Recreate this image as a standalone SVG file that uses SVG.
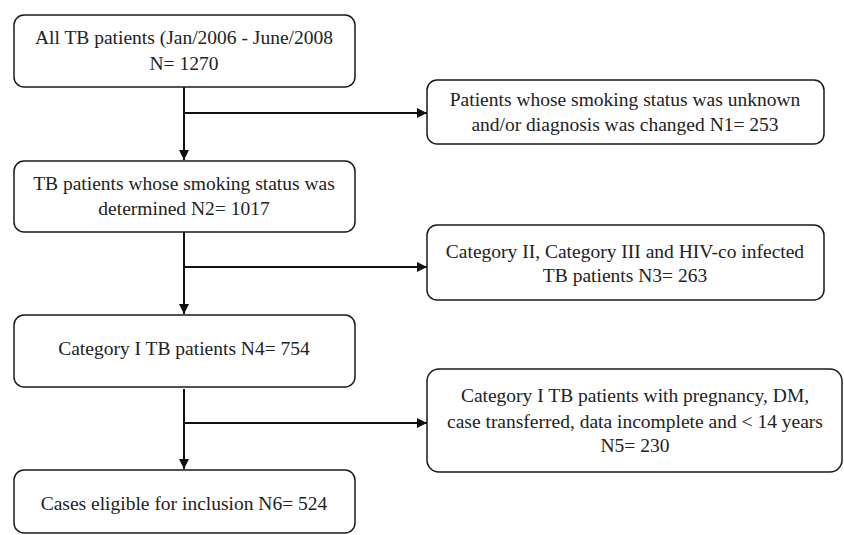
<svg xmlns="http://www.w3.org/2000/svg" width="844" height="535" viewBox="0 0 844 535">
<style>
.box{fill:#fff;stroke:#1a1a1a;stroke-width:1.5}
.t{font-family:"Liberation Serif","Times New Roman",serif;font-size:19.5px;fill:#222;text-anchor:middle}
.c{stroke:#111;stroke-width:2;fill:none}
</style>
<defs>
<marker id="ah" viewBox="0 0 10 10" refX="10" refY="5" markerWidth="10" markerHeight="10" markerUnits="userSpaceOnUse" orient="auto">
<path d="M0,0 L10,5 L0,10 Z" fill="#111"/>
</marker>
</defs>
<rect width="844" height="535" fill="#fff"/>
<g id="connectors">
<line class="c" x1="184" y1="87" x2="184" y2="160" marker-end="url(#ah)"/>
<line class="c" x1="184" y1="113" x2="427" y2="113" marker-end="url(#ah)"/>
<line class="c" x1="184" y1="232" x2="184" y2="314" marker-end="url(#ah)"/>
<line class="c" x1="184" y1="267" x2="427" y2="267" marker-end="url(#ah)"/>
<line class="c" x1="184" y1="389" x2="184" y2="469" marker-end="url(#ah)"/>
<line class="c" x1="184" y1="423" x2="427" y2="423" marker-end="url(#ah)"/>
</g>
<g id="n1">
<rect class="box" x="14" y="15" width="341" height="72" rx="10"/>
<text class="t" x="184" y="44">All TB patients (Jan/2006 - June/2008</text>
<text class="t" x="184" y="70">N= 1270</text>
</g>
<g id="n2">
<rect class="box" x="14" y="161" width="341" height="71" rx="10"/>
<text class="t" x="184" y="190">TB patients whose smoking status was</text>
<text class="t" x="184" y="215">determined N2= 1017</text>
</g>
<g id="n3">
<rect class="box" x="14" y="315" width="341" height="72" rx="10"/>
<text class="t" x="184" y="355">Category I TB patients N4= 754</text>
</g>
<g id="n4">
<rect class="box" x="14" y="470" width="341" height="63" rx="10"/>
<text class="t" x="184" y="510">Cases eligible for inclusion N6= 524</text>
</g>
<g id="e1">
<rect class="box" x="427" y="80" width="397" height="64" rx="10"/>
<text class="t" x="625" y="106">Patients whose smoking status was unknown</text>
<text class="t" x="625" y="131">and/or diagnosis was changed N1= 253</text>
</g>
<g id="e2">
<rect class="box" x="427" y="225" width="397" height="75" rx="10"/>
<text class="t" x="625" y="258">Category II, Category III and HIV-co infected</text>
<text class="t" x="625" y="282">TB patients N3= 263</text>
</g>
<g id="e3">
<rect class="box" x="427" y="369" width="415" height="103" rx="12"/>
<text class="t" x="635" y="402">Category I TB patients with pregnancy, DM,</text>
<text class="t" x="635" y="428">case transferred, data incomplete and &lt; 14 years</text>
<text class="t" x="635" y="452">N5= 230</text>
</g>
</svg>
